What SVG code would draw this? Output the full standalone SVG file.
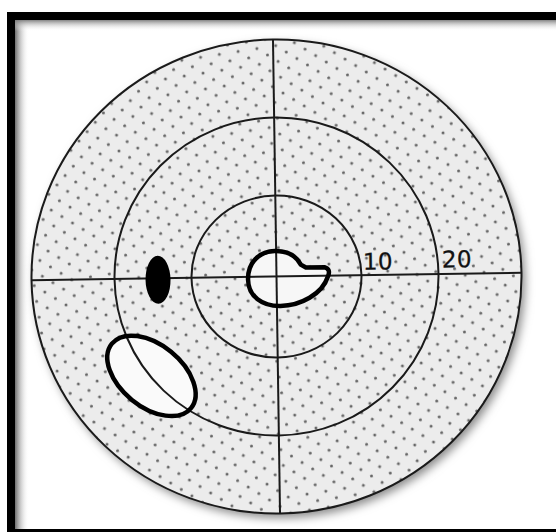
<svg xmlns="http://www.w3.org/2000/svg" width="556" height="532" viewBox="0 0 556 532">
  <defs>
    <pattern id="dots" width="19" height="16" patternUnits="userSpaceOnUse" patternTransform="rotate(-8)">
      <rect width="19" height="16" fill="#ececec"/>
      <circle cx="4" cy="4" r="1.5" fill="#666"/>
      <circle cx="13.5" cy="12" r="1.5" fill="#666"/>
    </pattern>
    <linearGradient id="shL" x1="0" y1="0" x2="1" y2="0">
      <stop offset="0" stop-color="#6e6e6e"/>
      <stop offset="1" stop-color="#ffffff" stop-opacity="0"/>
    </linearGradient>
    <linearGradient id="shT" x1="0" y1="0" x2="0" y2="1">
      <stop offset="0" stop-color="#6e6e6e"/>
      <stop offset="1" stop-color="#ffffff" stop-opacity="0"/>
    </linearGradient>
    <filter id="blur" x="-10%" y="-10%" width="120%" height="120%">
      <feGaussianBlur stdDeviation="5"/>
    </filter>
    <style>
      .ring { fill: none; stroke: #1a1a1a; stroke-width: 2; }
      .axis { stroke: #1a1a1a; stroke-width: 2; }
      .bold { stroke: #000; stroke-width: 4.5; }
      .lbl { font-family: "DejaVu Sans", "Liberation Sans", sans-serif; font-size: 23px; fill: #111; stroke: #111; stroke-width: 0.3; letter-spacing: 0.5px; }
    </style>
  </defs>

  <rect width="556" height="532" fill="#ffffff"/>

  <g id="frame">
    <rect x="15" y="19" width="14" height="515" fill="url(#shL)"/>
    <rect x="15" y="19" width="545" height="12" fill="url(#shT)"/>
    <rect x="11" y="16" width="560" height="517" fill="none" stroke="#000" stroke-width="8"/>
  </g>

  <g id="field" transform="rotate(-0.85 276.5 276.5)">
    <ellipse cx="280" cy="281" rx="245" ry="237" fill="#8a8a8a" filter="url(#blur)"/>
    <ellipse cx="276.5" cy="276.5" rx="245" ry="237" fill="url(#dots)"/>

    <g id="scotoma">
      <ellipse cx="150" cy="374" rx="51" ry="31" transform="rotate(40 150 374)" fill="#fafafa"/>
    </g>
    <g id="center-field">
      <path d="M 248 279 C 248 262 260 251 275 251 C 290 251 297 257 301 265 L 306 268 L 325 268 Q 331 270 328 277 C 322 295 300 306 280 306 C 262 306 248 296 248 279 Z" fill="#f7f7f7"/>
    </g>

    <g id="rings">
      <ellipse class="ring" cx="276.5" cy="276.5" rx="245" ry="237" stroke-width="2.2"/>
      <ellipse class="ring" cx="276.5" cy="276.5" rx="162" ry="159"/>
      <ellipse class="ring" cx="276.5" cy="276.5" rx="85" ry="81"/>
    </g>
    <g id="axes">
      <line class="axis" x1="31.5" y1="276.5" x2="521.5" y2="276.5"/>
      <line class="axis" x1="276.5" y1="39.5" x2="276.5" y2="513.5"/>
    </g>

    <g id="blind-spot">
      <ellipse cx="158" cy="278" rx="12.5" ry="24" fill="#000"/>
    </g>
    <g id="scotoma-outline">
      <ellipse cx="150" cy="374" rx="51" ry="31" transform="rotate(40 150 374)" fill="none" class="bold"/>
    </g>
    <g id="center-outline">
      <path d="M 248 279 C 248 262 260 251 275 251 C 290 251 297 257 301 265 L 306 268 L 325 268 Q 331 270 328 277 C 322 295 300 306 280 306 C 262 306 248 296 248 279 Z" fill="none" class="bold"/>
    </g>

    <g id="labels">
      <text class="lbl" x="363" y="271">10</text>
      <text class="lbl" x="442" y="270">20</text>
    </g>
  </g>
</svg>
